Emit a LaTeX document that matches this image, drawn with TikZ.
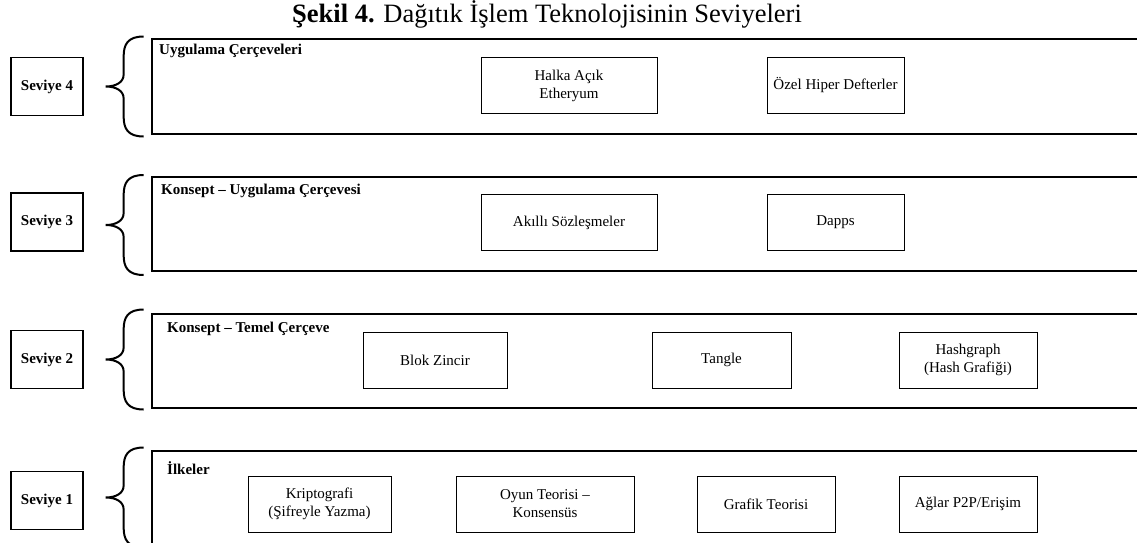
\documentclass[tikz,border=0pt]{standalone}
\usepackage{fontspec}
\setmainfont{Liberation Serif}
\begin{document}
\begin{tikzpicture}[x=1pt,y=-1pt,
    level/.style={draw,line width=1.3pt,minimum width=72pt,minimum height=58pt,inner sep=0pt,
      font=\fontsize{15}{18}\selectfont\bfseries},
    frame/.style={draw,line width=2pt,anchor=north west,inner sep=0pt,minimum width=1000pt},
    item/.style={draw,line width=0.8pt,minimum height=56pt,inner sep=0pt,align=center,
      font=\fontsize{15}{18}\selectfont},
    tag/.style={anchor=base west,inner sep=0pt,font=\fontsize{15}{18}\selectfont\bfseries},
    curly/.pic={\draw[line width=2pt] (38,-50) .. controls (22,-50) and (18,-42) .. (18,-30)
      -- (18,-12) .. controls (18,-4) and (10,0) .. (0,0) .. controls (10,0) and (18,4) .. (18,12)
      -- (18,30) .. controls (18,42) and (22,50) .. (38,50);}]
  \useasboundingbox (0,0) rectangle (1137,543);
  \clip (0,0) rectangle (1137,543);
  \node[anchor=base,inner sep=0pt,font=\fontsize{26.5}{30}\selectfont] (title) at (547,23)
    {\textbf{Şekil 4.} Dağıtık İşlem Teknolojisinin Seviyeleri};
  % levels
  \node[level] (s4) at (47,86.5) {Seviye 4};
  \node[level] (s3) at (47,222) {Seviye 3};
  \node[level] (s2) at (47,359.5) {Seviye 2};
  \node[level] (s1) at (47,500.5) {Seviye 1};
  \pic at ([xshift=22pt]s4.east) {curly};
  \pic at ([xshift=22pt,yshift=-3pt]s3.east) {curly};
  \pic at ([xshift=22pt]s2.east) {curly};
  \pic at ([xshift=22pt,yshift=3pt]s1.east) {curly};
  % frames
  \node[frame,minimum height=95pt] (f4) at (151,38) {};
  \node[frame,minimum height=94pt] (f3) at (151,176) {};
  \node[frame,minimum height=94pt] (f2) at (151,313) {};
  \node[frame,minimum height=120pt] (f1) at (151,450) {};
  \node[tag] (t4) at (159,55) {Uygulama Çerçeveleri};
  \node[tag] (t3) at (161,194) {Konsept – Uygulama Çerçevesi};
  \node[tag] (t2) at (167,332) {Konsept – Temel Çerçeve};
  \node[tag] (t1) at (167,474) {İlkeler};
  % level 4
  \node[item,minimum width=176pt] (halka) at (569,85.5) {Halka Açık\\Etheryum};
  \node[item,minimum width=137pt] (ozel) at (835.5,85.5) {Özel Hiper Defterler};
  % level 3
  \node[item,minimum width=176pt] (akilli) at (569,222.5) {Akıllı Sözleşmeler};
  \node[item,minimum width=137pt] (dapps) at (835.5,222.5) {Dapps};
  % level 2
  \node[item,minimum width=144pt] (blok) at (435,360) {Blok Zincir};
  \node[item,minimum width=139pt] (tangle) at (721.5,360) {Tangle};
  \node[item,minimum width=138pt] (hash) at (968,360) {Hashgraph\\(Hash Grafiği)};
  % level 1
  \node[item,minimum width=143pt] (kripto) at (319.5,504) {Kriptografi\\(Şifreyle Yazma)};
  \node[item,minimum width=178pt] (oyun) at (545,504) {Oyun Teorisi –\\Konsensüs};
  \node[item,minimum width=138pt] (grafik) at (766,504) {Grafik Teorisi};
  \node[item,minimum width=138pt] (aglar) at (968,504) {Ağlar P2P/Erişim};
\end{tikzpicture}
\end{document}
